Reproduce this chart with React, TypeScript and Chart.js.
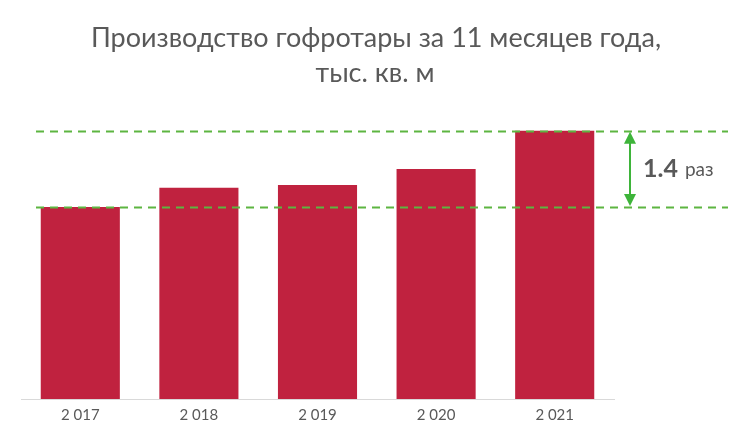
import React, { useEffect, useRef } from "react";
import { Chart, registerables } from "chart.js";

Chart.register(...registerables);

const categories = ["2 017", "2 018", "2 019", "2 020", "2 021"];
const values = [5010, 5510, 5580, 6000, 7000];
const titleLines = ["Производство гофротары за 11 месяцев года,", "тыс. кв. м"];
const ratioNumber = "1.4";
const ratioUnit = "раз";

const BAR = "#C0223F";
const GREEN_DASH = "#5DB541";
const GREEN_ARROW = "#3EB43A";
const GREY = "#595959";
const FONT = "Lato, 'Open Sans', sans-serif";

const titlePlugin = {
  id: "titleDraw",
  afterDraw(chart: any) {
    const { ctx } = chart;
    ctx.save();
    ctx.fillStyle = GREY;
    ctx.textAlign = "center";
    ctx.textBaseline = "middle";
    ctx.font = `27px ${FONT}`;
    ctx.fillText(titleLines[0], 376, 38);
    ctx.fillText(titleLines[1], 375, 73);
    ctx.restore();
  },
};

const guides = {
  id: "guides",
  afterDatasetsDraw(chart: any) {
    const { ctx, scales } = chart;
    const y = scales.y;
    const x = scales.x;
    const yLow = y.getPixelForValue(values[0]);
    const yHigh = y.getPixelForValue(values[values.length - 1]);
    const left = x.left + 15;
    const right = chart.width - 15;
    ctx.save();
    ctx.strokeStyle = GREEN_DASH;
    ctx.lineWidth = 2;
    ctx.setLineDash([8, 6]);
    [yLow, yHigh].forEach((py: number) => {
      ctx.beginPath();
      ctx.moveTo(left, Math.round(py) + 0.5);
      ctx.lineTo(right, Math.round(py) + 0.5);
      ctx.stroke();
    });
    ctx.setLineDash([]);
    // arrow
    const ax = x.right + 16;
    ctx.strokeStyle = GREEN_ARROW;
    ctx.fillStyle = GREEN_ARROW;
    ctx.lineWidth = 2;
    const head = 12;
    ctx.beginPath();
    ctx.moveTo(ax, yHigh + head);
    ctx.lineTo(ax, yLow - head);
    ctx.stroke();
    ctx.beginPath();
    ctx.moveTo(ax, yHigh + 1);
    ctx.lineTo(ax - 6, yHigh + head + 1);
    ctx.lineTo(ax + 6, yHigh + head + 1);
    ctx.closePath();
    ctx.fill();
    ctx.beginPath();
    ctx.moveTo(ax, yLow - 1);
    ctx.lineTo(ax - 6, yLow - head - 1);
    ctx.lineTo(ax + 6, yLow - head - 1);
    ctx.closePath();
    ctx.fill();
    // text
    const ty = (yLow + yHigh) / 2;
    ctx.fillStyle = GREY;
    ctx.textBaseline = "middle";
    ctx.textAlign = "left";
    ctx.font = `bold 25px ${FONT}`;
    const tx = ax + 13;
    ctx.fillText(ratioNumber, tx, ty);
    const w = ctx.measureText(ratioNumber).width;
    ctx.font = `19px ${FONT}`;
    ctx.fillText(ratioUnit, tx + w + 7, ty + 1);
    ctx.restore();
  },
};

export default function App() {
  const ref = useRef<HTMLCanvasElement>(null);
  useEffect(() => {
    document.body.style.margin = "0";
    const chart = new Chart(ref.current!, {
      type: "bar",
      data: {
        labels: categories,
        datasets: [
          {
            data: values,
            backgroundColor: BAR,
            categoryPercentage: 1,
            barPercentage: 0.667,
          },
        ],
      },
      options: {
        animation: false,
        responsive: false,
        maintainAspectRatio: false,
        layout: { padding: { left: 21, right: 129, top: 100, bottom: 11 } },
        plugins: {
          legend: { display: false },
          tooltip: { enabled: false },
          title: { display: false },
        },
        scales: {
          x: {
            grid: { display: false, drawTicks: false },
            border: { display: true, color: "#D9D9D9", width: 1 },
            ticks: { color: GREY, font: { family: FONT, size: 15 }, padding: 7 },
          },
          y: {
            display: false,
            min: 0,
            max: 7800,
          },
        },
      },
      plugins: [guides, titlePlugin],
    });
    return () => chart.destroy();
  }, []);
  return (
    <div style={{ width: 743, height: 442 }}>
      <canvas ref={ref} width={743} height={442} style={{ width: 743, height: 442 }} />
    </div>
  );
}
